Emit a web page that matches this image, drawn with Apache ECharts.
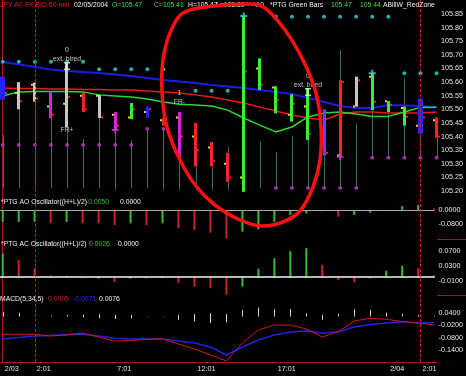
<!DOCTYPE html>
<html><head><meta charset="utf-8">
<script src="https://cdn.jsdelivr.net/npm/echarts@6/dist/echarts.min.js"></script>
<style>html,body{margin:0;padding:0;background:#000;}#c{width:466px;height:376px;}</style>
</head><body><div id="c"></div>
<script>
// ---------- DATA ----------
const hours = [0,1,2,3,4,5,6,7,8,9,10,11,12,13,14,15,16,17,18,19,20,21,22,23,24,25,26,27];
const timeTickIdx = [0,2,7,12,17,24,26];
const timeTickText = ['2/03','2:01','7:01','12:01','17:01','2/04','2:01'];
const sessionLines = [2,26];

const priceTicks = ['105.85','105.80','105.75','105.70','105.65','105.60','105.55','105.50','105.45','105.40','105.35','105.30','105.25','105.20'];
const aoTicks = ['0.0000','-0.0800'];
const acTicks = ['0.0700','0.0300','-0.0100'];
const macdTicks = ['0.0400','-0.0200','-0.0800','-0.1400'];

const barHigh  = [105.62,105.60,105.598,105.565,105.67,105.56,105.553,105.49,105.523,105.51,105.47,105.49,105.45,105.38,105.34,105.843,105.687,105.585,105.555,105.577,105.50,105.607,105.62,105.632,105.53,105.51,105.54,105.47];
const barLow   = [105.535,105.50,105.528,105.467,105.435,105.49,105.468,105.424,105.464,105.47,105.44,105.325,105.29,105.29,105.234,105.197,105.571,105.485,105.455,105.387,105.33,105.326,105.51,105.497,105.49,105.44,105.41,105.395];
const barOpen  = [105.60,105.56,105.59,105.51,105.52,105.55,105.55,105.48,105.47,105.49,105.46,105.47,105.40,105.36,105.30,105.25,105.65,105.58,105.48,105.51,105.40,105.33,105.51,105.62,105.53,105.505,105.44,105.46];
const barClose = [105.56,105.53,105.54,105.48,105.546,105.50,105.47,105.44,105.50,105.50,105.45,105.40,105.35,105.31,105.25,105.64,105.59,105.535,105.52,105.41,105.34,105.60,105.607,105.528,105.516,105.473,105.47,105.40];
const barType  = ['S','W','W','M','W','R','W','M','G','B','R','M','R','R','R','G','G','G','G','G','P','R','W','G','G','G','S','R'];

const pillarTop    = [105.406,105.50,105.528,105.467,105.435,105.39,105.468,105.424,105.387,105.424,105.428,105.325,105.29,105.29,105.363,null,105.381,105.344,105.403,105.387,105.33,105.717,105.449,105.497,105.49,105.615,105.41,105.395];
const pillarBottom = [105.211,105.211,105.211,105.211,105.211,105.211,105.211,105.205,105.211,105.211,105.205,105.205,105.205,105.205,105.205,null,105.211,105.211,105.211,105.211,105.211,105.211,105.211,105.322,105.322,105.322,105.322,105.322];

const blueMA  = [105.674,105.665,105.655,105.646,105.641,105.637,105.633,105.628,105.622,105.615,105.608,105.602,105.597,105.589,105.584,105.578,105.571,105.564,105.556,105.542,105.527,105.512,105.505,105.505,105.516,105.514,105.512,105.508];
const redMA   = [105.578,105.576,105.576,105.575,105.575,105.573,105.573,105.571,105.571,105.567,105.564,105.560,105.553,105.545,105.534,105.523,105.508,105.494,105.479,105.468,105.461,105.483,105.490,105.490,105.486,105.486,105.486,105.490];
const greenMA = [105.549,105.564,105.565,105.565,105.565,105.564,105.553,105.549,105.545,105.538,105.527,105.519,105.516,105.512,105.497,105.468,105.442,105.417,105.435,105.472,105.486,105.490,105.483,105.474,105.474,105.490,105.507,105.508];

const cyanDots    = [105.675,105.675,105.675,105.675,105.675,105.675,105.647,105.647,105.647,105.647,105.647,null,105.568,105.568,105.568,null,null,105.84,105.84,105.84,105.84,105.84,105.84,105.84,105.84,105.632,105.632,105.632];
const magentaDots = [105.369,105.369,105.369,105.369,105.369,105.369,105.369,105.369,105.369,105.428,105.428,null,null,null,null,null,null,105.211,105.211,105.211,105.211,105.211,105.211,105.322,105.322,105.322,105.322,105.322];

const cyanCrossIdx = [15,23],  cyanCrossVal = [105.843,105.632];
const blueCrossIdx = [15],     blueCrossVal = [105.197];
const magCrossIdx  = [7,21],   magCrossVal  = [105.424,105.326];
const beamIdx = [4,19],        beamVal = [105.659,105.564];

const annotIdx  = [4,4,4,11,11,19,19];
const annotVal  = [105.718,105.685,105.424,105.56,105.527,105.622,105.589];
const annotText = ['0','ext. bired','FR+','1','FR-','0','ext. bired'];

const aoVal  = [-0.066,-0.066,-0.066,-0.074,-0.066,-0.074,-0.074,-0.083,-0.074,-0.083,-0.074,-0.101,-0.110,-0.125,-0.158,-0.120,-0.107,-0.066,-0.028,-0.020,-0.008,-0.037,-0.028,-0.015,-0.005,0.021,0.027,0.008];
const aoType = ['G','G','G','R','G','R','R','R','G','R','G','R','R','R','R','G','G','G','G','G','R','R','G','G','G','G','G','R'];

const acVal  = [0.064,0.046,0.024,0.004,0.003,-0.003,-0.004,-0.013,-0.004,-0.003,0.002,-0.016,-0.026,-0.030,-0.048,-0.026,0.023,0.051,0.070,0.078,0.033,-0.008,-0.014,-0.003,0.017,0.030,0.024,0.005];
const acType = ['G','R','R','R','G','R','G','R','G','G','W','R','R','R','R','G','G','G','G','G','R','R','R','G','G','G','R','R'];

const macdLine   = [-0.0639,-0.0639,-0.0639,-0.0723,-0.0673,-0.0575,-0.0772,-0.0968,-0.0944,-0.0885,-0.0870,-0.1116,-0.1361,-0.1656,-0.1950,-0.1066,-0.0428,-0.0182,-0.0182,-0.0379,-0.0772,-0.0511,0.0014,0.0147,0.0098,-0.0010,-0.0084,-0.0182];
const signalLine = [-0.0870,-0.0796,-0.0723,-0.0698,-0.0649,-0.0639,-0.0723,-0.0836,-0.0870,-0.0870,-0.0870,-0.0968,-0.1066,-0.1263,-0.1656,-0.1263,-0.0919,-0.0673,-0.0526,-0.0477,-0.0590,-0.0511,-0.0281,-0.0158,-0.0084,-0.0020,-0.0084,-0.0069];
const histTop    = [0.006,0.0044,0.003,0.001,0.002,0.002,0.0028,0.002,0.002,0.0005,0.0005,0.002,0.003,0.004,0.003,0.008,0.011,0.0089,0.0093,0.004,0.002,0.003,0.0089,0.008,0.0047,0.003,0.002,0.001];
const histBottom = [0,0,0,0,0,-0.001,-0.002,-0.003,-0.002,0,0,-0.004,-0.006,-0.008,-0.007,0,0,0,0,0,-0.004,0,0,0,0,0,0,0];

// ---------- STYLE ----------
const FONT = '"Liberation Sans", Arial, sans-serif';
const X_MIN = -0.17, X_MAX = 27.03;
const barStyle = {G:{c:'#35f035',w:3},R:{c:'#ff2020',w:3},B:{c:'#2424ff',w:3},S:{c:'#2424ff',w:5},M:{c:'#d424d4',w:3},W:{c:'#c6c6c6',w:3},P:{c:'#7a34ff',w:3}};
const histColor = {G:'#2fbf2f',R:'#d42020',W:'#d0d0d0'};
const labelColor = '#e6e6e6';

function pick(list, digits){ return v => { const s = v.toFixed(digits); return list.includes(s) ? s : ''; }; }
function yAx(g, min, max, interval, list, digits){
  return {type:'value', gridIndex:g, position:'right', min, max, interval,
    axisLine:{show:false}, axisTick:{show:false}, splitLine:{show:false},
    axisLabel:{color:labelColor, fontSize:7.2, fontFamily:FONT, margin:4, formatter:pick(list,digits), showMinLabel:true, showMaxLabel:true}};
}
const pts = (arr) => hours.map((h,k)=>arr[k]==null?null:[h,arr[k]]).filter(d=>d);

const grids = [
  {left:0, width:437, top:14, height:177},
  {left:0, width:437, top:199, height:40},
  {left:0, width:437, top:240, height:55.6},
  {left:0, width:437, top:305, height:57},
  {left:0, width:437, top:0, height:362}
];
const xAxes = [0,1,2,3].map(g=>({type:'value', gridIndex:g, min:X_MIN, max:X_MAX, show:false}));
xAxes.push({type:'value', gridIndex:4, min:X_MIN, max:X_MAX,
  axisLine:{show:true, onZero:false, lineStyle:{color:'#b01515', width:1}},
  axisTick:{show:false}, splitLine:{show:false},
  axisLabel:{customValues:timeTickIdx, formatter:v=>{const k=timeTickIdx.indexOf(v);return k<0?'':timeTickText[k];},
    color:labelColor, fontSize:7.2, fontFamily:FONT, align:'left', margin:4, padding:[0,0,0,2]}});

const yAxes = [
  yAx(0,105.20,105.85,0.05,priceTicks,2),
  yAx(1,-0.16,0.06,0.08,aoTicks,4),
  yAx(2,-0.05,0.10,0.04,acTicks,4),
  yAx(3,-0.20,0.08,0.06,macdTicks,4),
  {type:'value', gridIndex:3, min:-0.055, max:0.014, show:false},
  {type:'value', gridIndex:4, min:0, max:1, position:'right', axisLine:{show:true, lineStyle:{color:'#b01515', width:1}}, axisTick:{show:false}, axisLabel:{show:false}, splitLine:{show:false}}
];

function histSeries(xi, yi, vals, types, colorMap, w, zeroColor, zeroW){
  return {type:'custom', xAxisIndex:xi, yAxisIndex:yi, silent:true, z:3,
    data: hours.map((h,k)=>[h, vals[k], 0]),
    renderItem:(p,api)=>{
      const a = api.coord([api.value(0), api.value(2)]);
      const b = api.coord([api.value(0), api.value(1)]);
      return {type:'rect', shape:{x:a[0]-w/2, y:Math.min(a[1],b[1]), width:w, height:Math.max(1,Math.abs(b[1]-a[1]))},
        style:{fill:colorMap[types[p.dataIndex]]}};
    },
    markLine:{silent:true, symbol:['none','none'], label:{show:false}, animation:false,
      lineStyle:{color:zeroColor, width:zeroW, type:'solid'}, data:[{yAxis:0}]}
  };
}

const crossPath = 'path://M2.5,0H4.5V2.5H7V4.5H4.5V7H2.5V4.5H0V2.5H2.5Z';
const beamPath = 'path://M0,0H6V1.5H3.8V6.5H6V8H0V6.5H2.2V1.5H0Z';

const series = [
  // pillars
  {type:'custom', xAxisIndex:0, yAxisIndex:0, silent:true, z:1,
    data: hours.map((h,k)=>pillarTop[k]==null?null:[h,pillarTop[k],pillarBottom[k]]).filter(d=>d),
    renderItem:(p,api)=>{
      const a=api.coord([api.value(0),api.value(1)]), b=api.coord([api.value(0),api.value(2)]);
      return {type:'line', shape:{x1:Math.round(a[0])+0.5,y1:a[1],x2:Math.round(a[0])+0.5,y2:b[1]}, style:{stroke:'#2d7064', lineWidth:1}};
    }},
  {type:'line', xAxisIndex:0, yAxisIndex:0, data:pts(blueMA), symbol:'none', silent:true, z:2, lineStyle:{color:'#1c1ce8', width:2}},
  {type:'line', xAxisIndex:0, yAxisIndex:0, data:pts(redMA), symbol:'none', silent:true, z:2, lineStyle:{color:'#e81a1a', width:1.5}},
  {type:'line', xAxisIndex:0, yAxisIndex:0, data:pts(greenMA), symbol:'none', silent:true, z:2, lineStyle:{color:'#2ad82a', width:1.5}},
  // OHLC bars
  {type:'custom', xAxisIndex:0, yAxisIndex:0, silent:true, z:3,
    data: hours.map((h,k)=>[h,barHigh[k],barLow[k],barOpen[k],barClose[k]]),
    renderItem:(p,api)=>{
      const i=api.value(0);
      const hi=api.coord([i,api.value(1)]), lo=api.coord([i,api.value(2)]);
      const op=api.coord([i,api.value(3)]), cl=api.coord([i,api.value(4)]);
      const st=barStyle[barType[p.dataIndex]];
      const x0=Math.round(hi[0]-st.w/2);
      return {type:'group', children:[
        {type:'rect', shape:{x:x0, y:hi[1], width:st.w, height:lo[1]-hi[1]}, style:{fill:st.c}},
        {type:'rect', shape:{x:x0-2, y:op[1]-1, width:2, height:2}, style:{fill:'#e8d428'}},
        {type:'rect', shape:{x:x0+st.w, y:cl[1]-1, width:2, height:2}, style:{fill:'#d82828'}}
      ]};
    }},
  {type:'scatter', xAxisIndex:0, yAxisIndex:0, data:pts(cyanDots), symbol:'circle', symbolSize:4, silent:true, z:4, itemStyle:{color:'#30d8d8'}},
  {type:'scatter', xAxisIndex:0, yAxisIndex:0, data:pts(magentaDots), symbol:'circle', symbolSize:4, silent:true, z:4, itemStyle:{color:'#c433c4'}},
  {type:'scatter', xAxisIndex:0, yAxisIndex:0, data:cyanCrossIdx.map((x,k)=>[x,cyanCrossVal[k]]), symbol:crossPath, symbolSize:7, silent:true, z:5, itemStyle:{color:'#30e0e0'}},
  {type:'scatter', xAxisIndex:0, yAxisIndex:0, data:blueCrossIdx.map((x,k)=>[x,blueCrossVal[k]]), symbol:crossPath, symbolSize:7, silent:true, z:5, itemStyle:{color:'#2a2aff'}},
  {type:'scatter', xAxisIndex:0, yAxisIndex:0, data:magCrossIdx.map((x,k)=>[x,magCrossVal[k]]), symbol:crossPath, symbolSize:7, silent:true, z:5, itemStyle:{color:'#e030e0'}},
  {type:'scatter', xAxisIndex:0, yAxisIndex:0, data:beamIdx.map((x,k)=>[x,beamVal[k]]), symbol:beamPath, symbolSize:[6,8], silent:true, z:5, itemStyle:{color:'#f2f2f2'}},
  {type:'scatter', xAxisIndex:0, yAxisIndex:0, data:annotIdx.map((x,k)=>[x,annotVal[k]]), symbolSize:1, silent:true, z:6,
    itemStyle:{color:'rgba(0,0,0,0)'},
    label:{show:true, position:'inside', formatter:p=>annotText[p.dataIndex], color:'#ececec', fontSize:6.8, fontFamily:FONT}},
  // AO / AC
  histSeries(1,1,aoVal,aoType,histColor,2,'#a8a8a8',1),
  histSeries(2,2,acVal,acType,histColor,2,'#f4f4f4',1.5),
  // MACD histogram
  {type:'custom', xAxisIndex:3, yAxisIndex:4, silent:true, z:3,
    data: hours.map((h,k)=>[h,histTop[k],histBottom[k]]),
    renderItem:(p,api)=>{
      const a=api.coord([api.value(0),api.value(1)]), b=api.coord([api.value(0),api.value(2)]);
      return {type:'line', shape:{x1:Math.round(a[0])+0.5,y1:a[1],x2:Math.round(a[0])+0.5,y2:b[1]}, style:{stroke:'#d2d2d2', lineWidth:1}};
    }},
  {type:'line', xAxisIndex:3, yAxisIndex:3, data:pts(signalLine), symbol:'none', silent:true, z:2, lineStyle:{color:'#2222d8', width:1.5}},
  {type:'line', xAxisIndex:3, yAxisIndex:3, data:pts(macdLine), symbol:'none', silent:true, z:3, lineStyle:{color:'#d41818', width:1}},
  // session dashed lines
  {type:'line', xAxisIndex:4, yAxisIndex:5, data:[], silent:true, z:7,
    markLine:{silent:true, symbol:['none','none'], label:{show:false}, animation:false,
      lineStyle:{color:'#d01818', width:1, type:[3,2]}, data:sessionLines.map(v=>({xAxis:v}))}}
];

const txt = (x,y,text,fill) => ({type:'text', x, y, silent:true, z:50,
  style:{text, fill, font:'6.8px ' + FONT, verticalAlign:'middle', textVerticalAlign:'middle'}});
const graphic = [
  txt(0,5,'JPY A0-FX BID-60 min','#dd2222'),
  txt(74,5,'02/05/2004','#f0f0f0'),
  txt(112,5,'O=105.47','#36e036'),
  txt(154,5,'C=105.41','#36e036'),
  txt(188,5,'H=105.47','#f0f0f0'),
  txt(216,5,'L=105.39','#f0f0f0'),
  txt(254,5,'V:0','#f0f0f0'),
  txt(270,5,'*PTG Green Bars','#f0f0f0'),
  txt(331,5,'105.47','#36e036'),
  txt(360,5,'105.44','#36e036'),
  txt(383,5,'ABillW_RedZone','#f0f0f0'),
  txt(1,202,'*PTG AO Oscillator((H+L)/2)','#f0f0f0'),
  txt(86,202,'-0.0050','#36c036'),
  txt(120,202,'0.0000','#f0f0f0'),
  txt(1,244,'*PTG AC Oscillator((H+L)/2)','#f0f0f0'),
  txt(89,244,'0.0026','#36c036'),
  txt(118,244,'0.0000','#f0f0f0'),
  txt(0,299,'MACD(5,34,5)','#f0f0f0'),
  txt(48,299,'0.0005','#d42020'),
  txt(73,299,'-0.0071','#2a2aff'),
  txt(99,299,'0.0076','#f0f0f0'),
  {type:'line', silent:true, z:40, shape:{x1:437,y1:239.5,x2:466,y2:239.5}, style:{stroke:'#b01515', lineWidth:1}},
  {type:'line', silent:true, z:40, shape:{x1:437,y1:295.5,x2:466,y2:295.5}, style:{stroke:'#b01515', lineWidth:1}},
  {type:'polygon', silent:true, z:100,
    shape:{smooth:0.35, points:[[250,4],[265,8],[285,30],[303,60],[316,93],[321,127],[320,160],[313,187],[300,211],[283,222],[262,226],[240,220],[215,205],[196,186],[180,160],[167,127],[162,93],[163,60],[170,33],[183,13],[215,6]]},
    style:{fill:'none', stroke:'#ff1010', lineWidth:3.5}}
];

const chart = echarts.init(document.getElementById('c'), null, {renderer:'canvas', width:466, height:376});
chart.setOption({backgroundColor:'#000', animation:false, grid:grids, xAxis:xAxes, yAxis:yAxes, series, graphic});
</script></body></html>
